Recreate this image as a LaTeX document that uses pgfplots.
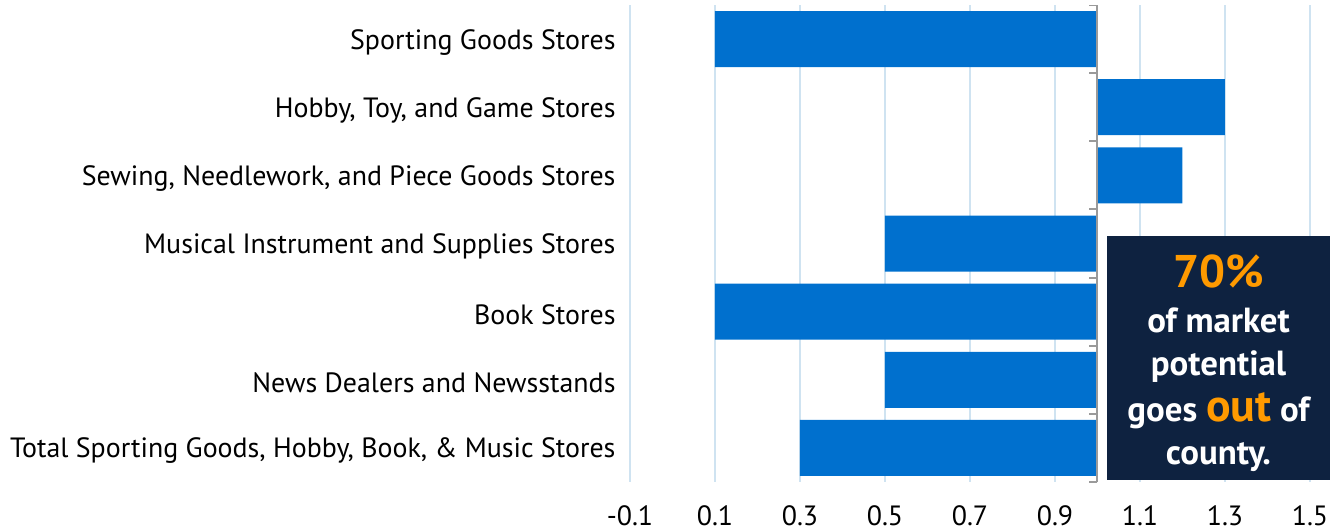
\documentclass[border=0pt]{standalone}
\usepackage{fontspec}
\setmainfont{PT Sans}
\usepackage{pgfplots}
\pgfplotsset{compat=1.18}
\definecolor{barblue}{HTML}{0070CE}
\definecolor{gridblue}{HTML}{CFE3F1}
\definecolor{axisgray}{HTML}{9A9A9A}
\definecolor{boxnavy}{HTML}{0E2240}
\definecolor{hiorange}{HTML}{FF9A00}
\begin{document}
\begin{tikzpicture}
\path[use as bounding box] (-630bp,-50bp) rectangle (713bp,482bp);
\begin{axis}[
    at={(0,0)}, anchor=south west,
    scale only axis, width=680bp, height=477bp,
    xmin=-0.1, xmax=1.5,
    ymin=-0.5, ymax=6.5, y dir=reverse,
    x coord trafo/.code={\pgfmathparse{#1-1}},
    x coord inv trafo/.code={\pgfmathparse{#1+1}},
    xtick={-0.1,0.1,0.3,0.5,0.7,0.9,1.1,1.3,1.5},
    xticklabels={-0.1,0.1,0.3,0.5,0.7,0.9,1.1,1.3,1.5},
    ytick={0,1,2,3,4,5,6},
    yticklabels={Sporting Goods Stores,
                 {Hobby, Toy, and Game Stores},
                 {Sewing, Needlework, and Piece Goods Stores},
                 Musical Instrument and Supplies Stores,
                 Book Stores,
                 News Dealers and Newsstands,
                 {Total Sporting Goods, Hobby, Book, \& Music Stores}},
    xmajorgrids,
    grid style={gridblue, line width=1.5bp},
    axis line style={draw=none},
    major tick length=0pt,
    tick label style={font=\fontsize{28}{30}\selectfont},
    xticklabel style={yshift=-20bp},
    yticklabel style={xshift=-11bp, yshift=-3bp},
]
\addplot[xbar, bar width=56bp, fill=barblue, draw=none]
    coordinates {(0.1,0) (1.3,1) (1.2,2) (0.5,3) (0.1,4) (0.5,5) (0.3,6)};
\draw[axisgray, line width=2bp] (axis cs:1,-0.5) -- (axis cs:1,6.5);
\pgfplotsinvokeforeach{-0.5,0.5,1.5,2.5,3.5,4.5,5.5,6.5}{
    \draw[axisgray, line width=2bp] (axis cs:1,#1) -- ([xshift=-8bp]axis cs:1,#1);
}
\end{axis}
\fill[boxnavy] (477bp,2bp) rectangle (700bp,246bp);
\node[align=center, text=white, font=\bfseries\fontsize{35}{43}\selectfont]
    at (588.5bp,119bp)
    {{\color{hiorange}\fontsize{46}{48}\selectfont 70\%}\\[3bp]
     of market\\ potential\\[3bp]
     goes {\color{hiorange}\fontsize{46}{46}\selectfont out} of\\
     county.};
\end{tikzpicture}
\end{document}
